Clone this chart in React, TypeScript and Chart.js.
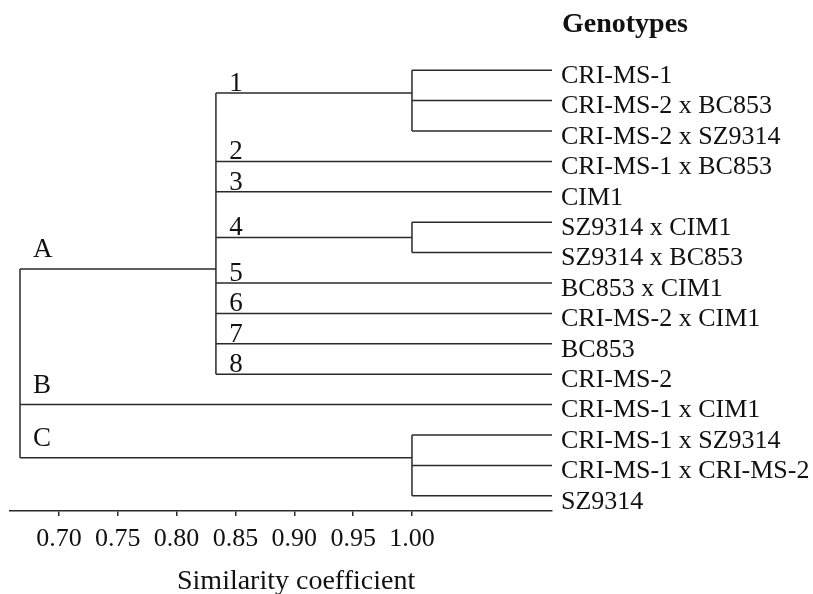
import { useEffect, useRef } from "react";
import { Chart, registerables } from "chart.js";

Chart.register(...registerables);

// ---- data ----
const leafLabels = [
  "CRI-MS-1",
  "CRI-MS-2 x BC853",
  "CRI-MS-2 x SZ9314",
  "CRI-MS-1 x BC853",
  "CIM1",
  "SZ9314 x CIM1",
  "SZ9314 x BC853",
  "BC853 x CIM1",
  "CRI-MS-2 x CIM1",
  "BC853",
  "CRI-MS-2",
  "CRI-MS-1 x CIM1",
  "CRI-MS-1 x SZ9314",
  "CRI-MS-1 x CRI-MS-2",
  "SZ9314",
];

// sub-groups of cluster A
const groupIds = ["1", "2", "3", "4", "5", "6", "7", "8"];
const groupLeaves = [[0, 1, 2], [3], [4], [5, 6], [7], [8], [9], [10]];
const groupRows = [0.75, 3, 4, 5.5, 7, 8, 9, 10];
const groupJoins: (number | null)[] = [1.0, null, null, 1.0, null, null, null, null];

// main clusters
const clusterIds = ["A", "B", "C"];
const clusterLeaves = [[0, 1, 2, 3, 4, 5, 6, 7, 8, 9, 10], [11], [12, 13, 14]];
const clusterRows = [6.54, 11, 12.75];
const clusterJoins: (number | null)[] = [0.8334, null, 1.0];
const rootJoin = 0.6669;

const xTickValues = [0.7, 0.75, 0.8, 0.85, 0.9, 0.95, 1.0];
const xMin = 0.6584;
const xMax = 1.119;

const legendTitle = "Genotypes";
const axisTitle = "Similarity coefficient";

const LINE = "#2a2a2a";
const TEXT = "#111";
const SERIF = '"Liberation Serif", "Times New Roman", serif';

type Seg = [number, number, number, number];

function buildSegments(): Seg[] {
  const segs: Seg[] = [];
  const addNode = (fromX: number, row: number, joinX: number | null, leaves: number[]) => {
    if (leaves.length === 1 || joinX == null) {
      segs.push([fromX, row, xMax, row]);
      return;
    }
    segs.push([fromX, row, joinX, row]);
    segs.push([joinX, Math.min(...leaves), joinX, Math.max(...leaves)]);
    leaves.forEach((l) => segs.push([joinX, l, xMax, l]));
  };
  // cluster A: its groups
  const aJoin = clusterJoins[0] as number;
  groupIds.forEach((_, gi) => addNode(aJoin, groupRows[gi], groupJoins[gi], groupLeaves[gi]));
  segs.push([rootJoin, clusterRows[0], aJoin, clusterRows[0]]);
  segs.push([aJoin, groupRows[0], aJoin, groupRows[groupRows.length - 1]]);
  // clusters B and C
  for (let ci = 1; ci < clusterIds.length; ci++) {
    addNode(rootJoin, clusterRows[ci], clusterJoins[ci], clusterLeaves[ci]);
  }
  // root
  segs.push([rootJoin, clusterRows[0], rootJoin, clusterRows[clusterRows.length - 1]]);
  return segs;
}

const labelPlugin = {
  id: "dendroLabels",
  afterDraw(chart: any) {
    const { ctx, scales } = chart;
    const x = scales.x;
    const y = scales.y;
    ctx.save();
    ctx.fillStyle = TEXT;
    ctx.textBaseline = "alphabetic";
    ctx.font = `27px ${SERIF}`;
    ctx.textAlign = "center";
    const aX = x.getPixelForValue(clusterJoins[0]);
    groupIds.forEach((g, i) => {
      ctx.fillText(g, aX + 20, y.getPixelForValue(groupRows[i]) - 2);
    });
    ctx.textAlign = "left";
    const rX = x.getPixelForValue(rootJoin);
    clusterIds.forEach((c, i) => {
      ctx.fillText(c, rX + 13, y.getPixelForValue(clusterRows[i]) - 12);
    });
    ctx.font = `bold 28px ${SERIF}`;
    ctx.fillText(legendTitle, chart.chartArea.right + 10, 32);
    ctx.font = `28px ${SERIF}`;
    ctx.fillText(axisTitle, 177, 589);
    ctx.restore();
  },
};

export default function App() {
  const ref = useRef<HTMLCanvasElement | null>(null);

  useEffect(() => {
    if (!ref.current) return;
    const segs = buildSegments();
    const chart = new Chart(ref.current, {
      type: "scatter",
      data: {
        datasets: segs.map((s) => ({
          data: [
            { x: s[0], y: s[1] },
            { x: s[2], y: s[3] },
          ],
          showLine: true,
          borderColor: LINE,
          borderWidth: 1.5,
          pointRadius: 0,
          pointHoverRadius: 0,
          clip: false as any,
        })),
      },
      options: {
        animation: false,
        responsive: false,
        events: [],
        layout: { padding: { left: 10, top: 22, right: 0, bottom: 0 } },
        plugins: {
          legend: { display: false },
          tooltip: { enabled: false },
          title: { display: false },
        },
        scales: {
          x: {
            type: "linear",
            position: "bottom",
            min: xMin,
            max: xMax,
            bounds: "data",
            afterBuildTicks: (s: any) => {
              s.ticks = xTickValues.map((v) => ({ value: v }));
            },
            afterFit: (s: any) => {
              s.height = 83;
            },
            ticks: {
              autoSkip: false,
              maxRotation: 0,
              minRotation: 0,
              padding: 8,
              color: TEXT,
              font: { family: SERIF, size: 26 },
              callback: (v: any) => Number(v).toFixed(2),
            },
            grid: {
              display: true,
              drawOnChartArea: false,
              drawTicks: true,
              tickLength: 5,
              color: LINE,
              lineWidth: 1.5,
            },
            border: { display: true, color: LINE, width: 1.5 },
          },
          y: {
            type: "linear",
            position: "right",
            reverse: true,
            min: -1.5,
            max: 14.5,
            bounds: "data",
            afterBuildTicks: (s: any) => {
              s.ticks = leafLabels.map((_, i) => ({ value: i }));
            },
            afterFit: (s: any) => {
              s.width = 261;
            },
            ticks: {
              autoSkip: false,
              padding: 9,
              labelOffset: 6,
              color: TEXT,
              font: { family: SERIF, size: 26 },
              callback: (v: any) => leafLabels[Number(v)] ?? "",
            },
            grid: { display: false, drawTicks: false },
            border: { display: false },
          },
        },
      },
      plugins: [labelPlugin],
    });
    return () => chart.destroy();
  }, []);

  return (
    <div style={{ position: "fixed", left: 0, top: 0, width: 813, height: 594, background: "#fff" }}>
      <canvas ref={ref} width={813} height={594} style={{ display: "block" }} />
    </div>
  );
}
